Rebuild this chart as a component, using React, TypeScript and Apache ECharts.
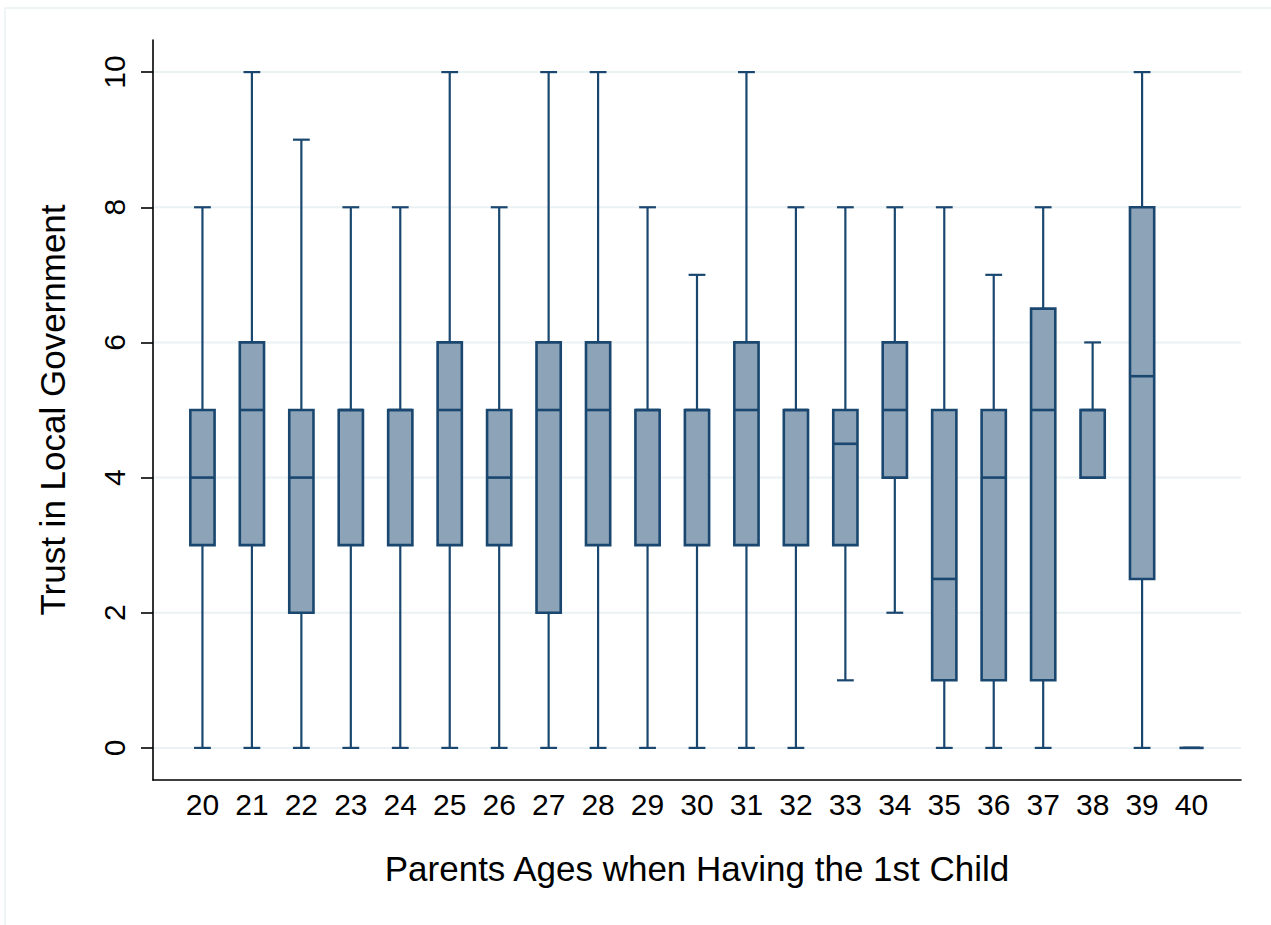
import React, { useEffect, useRef } from "react";
import * as echarts from "echarts";

const ages = [20, 21, 22, 23, 24, 25, 26, 27, 28, 29, 30, 31, 32, 33, 34, 35, 36, 37, 38, 39, 40];
const mins = [0, 0, 0, 0, 0, 0, 0, 0, 0, 0, 0, 0, 0, 1, 2, 0, 0, 0, 4, 0, 0];
const q1s = [3, 3, 2, 3, 3, 3, 3, 2, 3, 3, 3, 3, 3, 3, 4, 1, 1, 1, 4, 2.5, 0];
const medians = [4, 5, 4, 5, 5, 5, 4, 5, 5, 5, 5, 5, 5, 4.5, 5, 2.5, 4, 5, 5, 5.5, 0];
const q3s = [5, 6, 5, 5, 5, 6, 5, 6, 6, 5, 5, 6, 5, 5, 6, 5, 5, 6.5, 5, 8, 0];
const maxs = [8, 10, 9, 8, 8, 10, 8, 10, 10, 8, 7, 10, 8, 8, 8, 8, 7, 8, 6, 10, 0];
const yTicks = [0, 2, 4, 6, 8, 10];

const NAVY = "#1A476F";
const FILL = "#8DA3B7";
const GRID = "#EAF2F3";
const FONT = "'Liberation Sans', Arial, sans-serif";

export default function App() {
  const ref = useRef<HTMLDivElement>(null);
  useEffect(() => {
    document.body.style.margin = "0";
    const chart = echarts.init(ref.current!, null, { renderer: "svg" });
    const boxData = ages.map((a, i) => [a, mins[i], q1s[i], medians[i], q3s[i], maxs[i]]);
    const option: any = {
      animation: false,
      backgroundColor: "#ffffff",
      textStyle: { fontFamily: FONT },
      graphic: [
        {
          type: "rect",
          z: -10,
          silent: true,
          shape: { x: 5, y: 8, width: 1300, height: 1000 },
          style: { fill: "none", stroke: GRID, lineWidth: 1.5 },
        },
      ],
      grid: { left: 153, right: 30, top: 40, bottom: 145, containLabel: false },
      xAxis: {
        type: "value",
        min: 19,
        max: 41,
        interval: 1,
        name: "Parents Ages when Having the 1st Child",
        nameLocation: "middle",
        nameGap: 71,
        nameTextStyle: { fontSize: 35, color: "#000", fontFamily: FONT },
        axisLine: { show: true, onZero: false, lineStyle: { color: "#000", width: 1.6 } },
        axisTick: { show: false },
        splitLine: { show: false },
        axisLabel: {
          customValues: ages,
          fontSize: 30,
          color: "#000",
          margin: 9,
          fontFamily: FONT,
        },
      },
      yAxis: {
        type: "value",
        min: -0.475,
        max: 10.475,
        name: "Trust in Local Government",
        nameLocation: "middle",
        nameRotate: 90,
        nameGap: 83,
        nameTextStyle: { fontSize: 35, color: "#000", fontFamily: FONT },
        axisLine: { show: true, onZero: false, lineStyle: { color: "#000", width: 1.6 } },
        axisTick: {
          show: true,
          customValues: yTicks,
          length: 12,
          lineStyle: { color: "#000", width: 1.6 },
        },
        splitLine: { show: false },
        axisLabel: {
          customValues: yTicks,
          rotate: 90,
          fontSize: 30,
          color: "#000",
          margin: 24,
          fontFamily: FONT,
        },
      },
      series: [
        {
          type: "custom",
          name: "grid",
          z: 1,
          silent: true,
          data: yTicks.map((v) => [v]),
          encode: { y: 0 },
          renderItem: (params: any, api: any) => {
            const v = api.value(0);
            const p1 = api.coord([19, v]);
            const p2 = api.coord([41, v]);
            return {
              type: "line",
              shape: { x1: p1[0] + 1, y1: p1[1], x2: p2[0], y2: p2[1] },
              style: { stroke: GRID, lineWidth: 2 },
            };
          },
        },
        {
          type: "custom",
          name: "box",
          z: 2,
          data: boxData,
          encode: { x: 0, y: [1, 2, 3, 4, 5] },
          renderItem: (params: any, api: any) => {
            const x = api.value(0);
            const lo = api.coord([x, api.value(1)]);
            const q1 = api.coord([x, api.value(2)]);
            const med = api.coord([x, api.value(3)]);
            const q3 = api.coord([x, api.value(4)]);
            const hi = api.coord([x, api.value(5)]);
            const unit = api.size([1, 0])[0];
            const bh = unit * 0.245;
            const ch = unit * 0.17;
            const cx = lo[0];
            const wStyle = { stroke: NAVY, lineWidth: 2.2 };
            const children: any[] = [];
            if (hi[1] < q3[1]) {
              children.push({ type: "line", shape: { x1: cx, y1: q3[1], x2: cx, y2: hi[1] }, style: wStyle });
            }
            if (lo[1] > q1[1]) {
              children.push({ type: "line", shape: { x1: cx, y1: q1[1], x2: cx, y2: lo[1] }, style: wStyle });
            }
            children.push({ type: "line", shape: { x1: cx - ch, y1: hi[1], x2: cx + ch, y2: hi[1] }, style: wStyle });
            children.push({ type: "line", shape: { x1: cx - ch, y1: lo[1], x2: cx + ch, y2: lo[1] }, style: wStyle });
            if (q1[1] - q3[1] > 0.5) {
              children.push({
                type: "rect",
                shape: { x: cx - bh, y: q3[1], width: 2 * bh, height: q1[1] - q3[1] },
                style: { fill: FILL, stroke: NAVY, lineWidth: 2.6 },
              });
            }
            children.push({
              type: "line",
              shape: { x1: cx - bh, y1: med[1], x2: cx + bh, y2: med[1] },
              style: { stroke: NAVY, lineWidth: 2.6 },
            });
            return { type: "group", children };
          },
        },
      ],
    };
    chart.setOption(option);
    return () => chart.dispose();
  }, []);
  return <div ref={ref} style={{ width: 1271, height: 925 }} />;
}
